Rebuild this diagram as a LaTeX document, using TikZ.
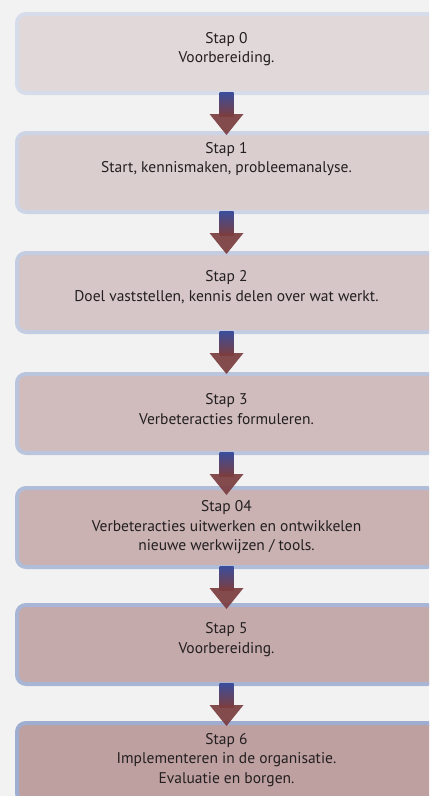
\documentclass[tikz,border=0pt]{standalone}
\usepackage{fontspec}
\setmainfont{PT Sans}
\usetikzlibrary{positioning,calc}

\definecolor{bg}{HTML}{F2F2F2}
\definecolor{filltop}{HTML}{E1D8D9}
\definecolor{fillbot}{HTML}{BFA0A1}
\definecolor{linetop}{HTML}{D6DCEA}
\definecolor{linebot}{HTML}{9EADD0}
\definecolor{arrblue}{HTML}{3B4E9C}
\definecolor{arrred}{HTML}{7B3D40}
\definecolor{txt}{HTML}{231F20}

\tikzset{
  stapbox/.style={draw, rounded corners=9pt, line width=4pt, minimum width=419pt, minimum height=79pt, inner sep=0pt},
  staptext/.style={align=center, text=txt, font=\fontsize{15.5}{19.5}\selectfont, inner sep=0pt},
}

\begin{document}
\begin{tikzpicture}[x=1pt,y=1pt]
  \useasboundingbox (0,0) rectangle (429,-796);
  \clip (0,0) rectangle (429,-796);
  \fill[bg] (0,0) rectangle (429,-796);

  \node[stapbox, fill=fillbot!0!filltop, draw=linebot!0!linetop] (s0) at (226.5,-53.5) {};
  \node[stapbox, fill=fillbot!17!filltop, draw=linebot!17!linetop] (s1) [below=36pt of s0] {};
  \node[stapbox, fill=fillbot!33!filltop, draw=linebot!33!linetop] (s2) [below=37pt of s1] {};
  \node[stapbox, fill=fillbot!50!filltop, draw=linebot!50!linetop] (s3) [below=38pt of s2] {};
  \node[stapbox, fill=fillbot!67!filltop, draw=linebot!67!linetop] (s4) [below=31pt of s3] {};
  \node[stapbox, fill=fillbot!83!filltop, draw=linebot!83!linetop] (s5) [below=34pt of s4] {};
  \node[stapbox, fill=fillbot!100!filltop, draw=linebot!100!linetop] (s6) [below=35pt of s5] {};

  \node[staptext] (t0) at ($(s0)+(0,4.5)$) {Stap 0\\Voorbereiding.};
  \node[staptext] (t1) at ($(s1)+(0,13.5)$) {Stap 1\\Start, kennismaken, probleemanalyse.};
  \node[staptext] (t2) at ($(s2)+(0,5.5)$) {Stap 2\\Doel vaststellen, kennis delen over wat werkt.};
  \node[staptext] (t3) at ($(s3)+(0,4.5)$) {Stap 3\\Verbeteracties formuleren.};
  \node[staptext] (t4) at ($(s4)+(0,0)$) {Stap 04\\Verbeteracties uitwerken en ontwikkelen\\nieuwe werkwijzen / tools.};
  \node[staptext] (t5) at ($(s5)+(0,5)$) {Stap 5\\Voorbereiding.};
  \node[staptext] (t6) at ($(s6)+(0,2.5)$) {Stap 6\\Implementeren in de organisatie.\\Evaluatie en borgen.};

  % pijlen tussen de stappen
  \foreach \a in {s0,s1,s2,s3,s4,s5} {
    \shade[top color=arrblue, bottom color=arrred] ($(\a.south)+(-7,3)$) rectangle ($(\a.south)+(7,-21)$);
    \fill[arrred, opacity=.92] ($(\a.south)+(-17,-19)$) -- ($(\a.south)+(17,-19)$) -- ($(\a.south)+(0,-40)$) -- cycle;
  }
\end{tikzpicture}
\end{document}
